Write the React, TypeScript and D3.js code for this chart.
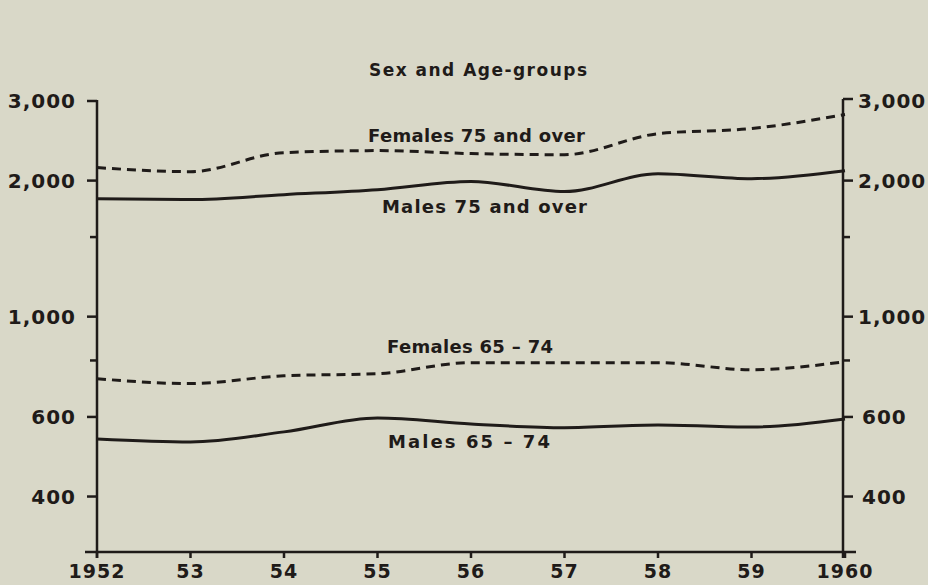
import React, { useEffect, useRef } from "react";
import * as d3 from "d3";

// Years along the bottom
const years = [1952, 1953, 1954, 1955, 1956, 1957, 1958, 1959, 1960];
const yearLabels = ["1952", "53", "54", "55", "56", "57", "58", "59", "1960"];

// Rates per million (log scale)
const femalesOver75 = [2137, 2093, 2306, 2330, 2295, 2282, 2540, 2607, 2800];
const malesOver75 = [1824, 1816, 1862, 1909, 1990, 1891, 2072, 2020, 2104];
const females65to74 = [729, 711, 740, 748, 791, 791, 791, 763, 795];
const males65to74 = [536, 528, 556, 597, 579, 568, 576, 570, 594];

const majorTicks = [400, 600, 1000, 2000, 3000];
const minorTicks = [800, 1500];

const seriesNames = [
  "Females 75 and over",
  "Males 75 and over",
  "Females 65 – 74",
  "Males 65 – 74",
];

const INK = "#1f1b19";
const FONT = "'DejaVu Sans', sans-serif";

const App: React.FC = () => {
  const svgRef = useRef<SVGSVGElement>(null);

  useEffect(() => {
    const width = 928;
    const height = 585;
    const left = 97;
    const right = 843;
    const top = 101;
    const bottom = 553;

    const svg = d3.select(svgRef.current);
    svg.selectAll("*").remove();
    svg.attr("width", width).attr("height", height);

    svg
      .append("rect")
      .attr("width", width)
      .attr("height", height)
      .attr("fill", "#d9d8c8");

    const x = d3.scaleLinear().domain([1952, 1960]).range([left, right + 2]);
    const y = d3.scaleLog().domain([300, 3000]).range([bottom, top]);

    // Title
    svg
      .append("text")
      .attr("x", 478)
      .attr("y", 76)
      .attr("text-anchor", "middle")
      .attr("font-family", FONT)
      .attr("font-weight", "bold")
      .attr("font-size", 17)
      .attr("textLength", 218)
      .attr("lengthAdjust", "spacing")
      .attr("fill", INK)
      .text("Sex and Age-groups");

    // Left axis
    const gl = svg.append("g");
    gl.append("line")
      .attr("x1", left).attr("x2", left)
      .attr("y1", y(3000) - 1).attr("y2", bottom + 5)
      .attr("stroke", INK).attr("stroke-width", 2.5);
    majorTicks.forEach((v) => {
      gl.append("line")
        .attr("x1", left - 10).attr("x2", left)
        .attr("y1", y(v)).attr("y2", y(v))
        .attr("stroke", INK).attr("stroke-width", 2.5);
      gl.append("text")
        .attr("x", left - 21)
        .attr("y", y(v) + 7)
        .attr("text-anchor", "end")
        .attr("font-family", FONT)
        .attr("font-weight", "bold")
        .attr("font-size", 20)
        .attr("letter-spacing", 1)
        .attr("fill", INK)
        .text(d3.format(",")(v));
    });
    minorTicks.forEach((v) => {
      gl.append("line")
        .attr("x1", left - 7).attr("x2", left)
        .attr("y1", y(v)).attr("y2", y(v))
        .attr("stroke", INK).attr("stroke-width", 2.5);
    });

    // Right axis
    const ax = right;
    const gr = svg.append("g");
    gr.append("line")
      .attr("x1", ax).attr("x2", ax)
      .attr("y1", y(3000) - 2).attr("y2", bottom + 5)
      .attr("stroke", INK).attr("stroke-width", 2.5);
    majorTicks.forEach((v) => {
      const ty = y(v) - (v === 3000 ? 2 : 0);
      gr.append("line")
        .attr("x1", ax).attr("x2", ax + 10)
        .attr("y1", ty).attr("y2", ty)
        .attr("stroke", INK).attr("stroke-width", 2.5);
      gr.append("text")
        .attr("x", ax + (v < 1000 ? 19 : 15))
        .attr("y", y(v) + 7)
        .attr("text-anchor", "start")
        .attr("font-family", FONT)
        .attr("font-weight", "bold")
        .attr("font-size", 20)
        .attr("letter-spacing", 1)
        .attr("fill", INK)
        .text(d3.format(",")(v));
    });
    minorTicks.forEach((v) => {
      gr.append("line")
        .attr("x1", ax).attr("x2", ax + 7)
        .attr("y1", y(v)).attr("y2", y(v))
        .attr("stroke", INK).attr("stroke-width", 2.5);
    });

    // Bottom axis
    const gb = svg.append("g");
    gb.append("line")
      .attr("x1", left - 12).attr("x2", right + 13)
      .attr("y1", bottom - 1).attr("y2", bottom - 1)
      .attr("stroke", INK).attr("stroke-width", 2.5);
    years.forEach((yr, i) => {
      gb.append("line")
        .attr("x1", x(yr)).attr("x2", x(yr))
        .attr("y1", bottom - 1).attr("y2", bottom + 5)
        .attr("stroke", INK).attr("stroke-width", 2.5);
      gb.append("text")
        .attr("x", x(yr))
        .attr("y", 578)
        .attr("text-anchor", "middle")
        .attr("font-family", FONT)
        .attr("font-weight", "bold")
        .attr("font-size", 19)
        .attr("letter-spacing", 1)
        .attr("fill", INK)
        .text(yearLabels[i]);
    });

    // Lines
    const line = d3
      .line<number>()
      .x((_, i) => x(years[i]))
      .y((d) => y(d))
      .curve(d3.curveMonotoneX);

    const series = [
      { values: femalesOver75, dashed: true },
      { values: malesOver75, dashed: false },
      { values: females65to74, dashed: true },
      { values: males65to74, dashed: false },
    ];

    series.forEach((s) => {
      svg
        .append("path")
        .datum(s.values)
        .attr("d", line)
        .attr("fill", "none")
        .attr("stroke", INK)
        .attr("stroke-width", 3)
        .attr("stroke-dasharray", s.dashed ? "9,6" : null);
    });

    // Series labels
    const labelPos = [
      { x: 368, y: 142, w: 217 },
      { x: 382, y: 213, w: 205 },
      { x: 387, y: 353, w: 166 },
      { x: 388, y: 448, w: 162 },
    ];
    seriesNames.forEach((name, i) => {
      svg
        .append("text")
        .attr("x", labelPos[i].x)
        .attr("y", labelPos[i].y)
        .attr("font-family", FONT)
        .attr("font-weight", "bold")
        .attr("font-size", 18)
        .attr("textLength", labelPos[i].w)
        .attr("lengthAdjust", "spacing")
        .attr("fill", INK)
        .text(name);
    });
  }, []);

  return (
    <svg
      ref={svgRef}
      style={{ position: "absolute", left: 0, top: 0, display: "block" }}
    ></svg>
  );
};

export default App;
